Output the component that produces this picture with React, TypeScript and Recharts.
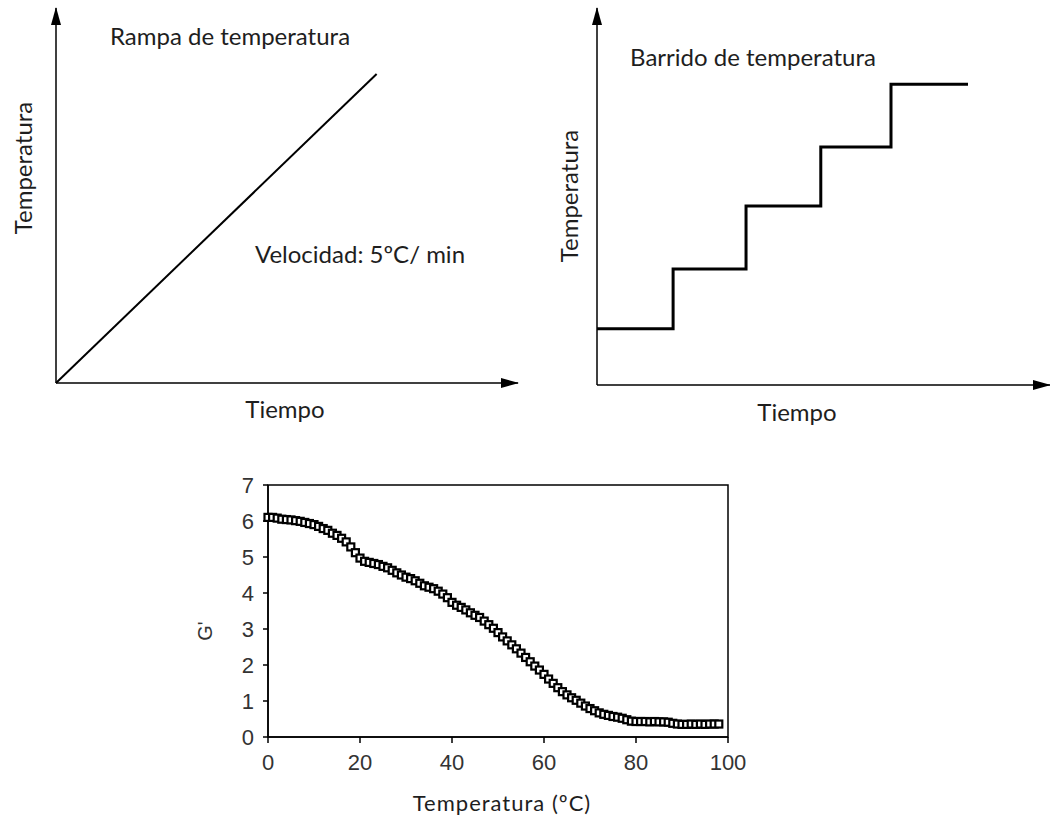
import {
  LineChart,
  Line,
  ScatterChart,
  Scatter,
  XAxis,
  YAxis,
  ReferenceArea,
} from "recharts";

// Rampa de temperatura (esquema, unidades arbitrarias)
const rampTime = [0, 6.94];
const rampTemp = [0, 8.24];

// Barrido de temperatura (escalones)
const sweepTime = [0, 1.68, 3.29, 4.94, 6.49, 8.19];
const sweepTemp = [1.49, 3.08, 4.75, 6.31, 7.98, 7.98];

// G' frente a temperatura (ºC)
const gTemps = [
  0, 1, 2, 3, 4, 5, 6, 7, 8, 9, 10, 11, 12, 13, 14, 15, 16, 17, 18, 19,
  20, 21, 22, 23, 24, 25, 26, 27, 28, 29, 30, 31, 32, 33, 34, 35, 36, 37, 38, 39,
  40, 41, 42, 43, 44, 45, 46, 47, 48, 49, 50, 51, 52, 53, 54, 55, 56, 57, 58, 59,
  60, 61, 62, 63, 64, 65, 66, 67, 68, 69, 70, 71, 72, 73, 74, 75, 76, 77, 78, 79,
  80, 81, 82, 83, 84, 85, 86, 87, 88, 89, 90, 91, 92, 93, 94, 95, 96, 97, 98,
];
const gValues = [
  6.1, 6.1, 6.08, 6.05, 6.04, 6.03, 6.01, 5.99, 5.96, 5.93, 5.9, 5.85, 5.79, 5.74, 5.66, 5.6, 5.52, 5.42, 5.28, 5.12,
  4.97, 4.88, 4.85, 4.82, 4.79, 4.74, 4.7, 4.63, 4.56, 4.5, 4.44, 4.4, 4.34, 4.27, 4.2, 4.16, 4.12, 4.05, 3.97, 3.87,
  3.74, 3.66, 3.6, 3.53, 3.45, 3.38, 3.32, 3.22, 3.12, 3.02, 2.9, 2.78, 2.67, 2.56, 2.45, 2.33, 2.21, 2.09, 1.97, 1.86,
  1.74, 1.61, 1.49, 1.37, 1.26, 1.17, 1.09, 1.02, 0.94, 0.86, 0.79, 0.73, 0.67, 0.63, 0.6, 0.57, 0.55, 0.52, 0.48, 0.44,
  0.43, 0.43, 0.43, 0.42, 0.43, 0.42, 0.42, 0.41, 0.38, 0.36, 0.35, 0.35, 0.36, 0.35, 0.36, 0.35, 0.36, 0.36, 0.36,
];
const xTicks = [0, 20, 40, 60, 80, 100];
const yTicks = [0, 1, 2, 3, 4, 5, 6, 7];

const rampData = rampTime.map((t, i) => ({ t, temp: rampTemp[i] }));
const sweepData = sweepTime.map((t, i) => ({ t, temp: sweepTemp[i] }));
const gData = gTemps.map((temp, i) => ({ temp, g: gValues[i] }));

const calibri = "Lato, 'Open Sans', sans-serif";
const arial = "'Liberation Sans', Arial, sans-serif";
const textColor = "#1e1e1e";

const arrowAxis = {
  stroke: "#000",
  strokeWidth: 1.5,
};

function Marker(props: any) {
  const { cx, cy } = props;
  return <rect x={cx - 3.5} y={cy - 3.5} width={7} height={7} fill="#fff" stroke="#000" strokeWidth={2.2} />;
}

export default function App() {
  return (
    <div style={{ position: "absolute", left: 0, top: 0, width: 1050, height: 819, background: "#fff" }}>
      <svg width={1} height={1} style={{ position: "absolute", left: 0, top: 0 }}>
        <defs>
          <marker id="arrow" markerUnits="userSpaceOnUse" markerWidth={18} markerHeight={10} refX={17} refY={5} orient="auto-start-reverse">
            <path d="M0,0 L18,5 L0,10 z" fill="#000" />
          </marker>
        </defs>
      </svg>

      <div style={{ position: "absolute", left: 0, top: 0 }}>
        <LineChart width={530} height={432} data={rampData} margin={{ top: 8, right: 12, bottom: 48, left: 55 }}>
          <XAxis dataKey="t" type="number" domain={[0, 10]} ticks={[]} tick={false} tickLine={false} height={1}
            axisLine={{ ...arrowAxis, markerEnd: "url(#arrow)" }} />
          <YAxis type="number" domain={[0, 10]} ticks={[]} tick={false} tickLine={false} width={1}
            axisLine={{ ...arrowAxis, markerStart: "url(#arrow)" }} />
          <Line dataKey="temp" stroke="#000" strokeWidth={2} dot={false} isAnimationActive={false} />
          <text x={230} y={35} textAnchor="middle" dominantBaseline="central" fontFamily={calibri} fontSize={24} fill={textColor}>
            Rampa de temperatura
          </text>
          <text x={360} y={253} textAnchor="middle" dominantBaseline="central" fontFamily={calibri} fontSize={24} fill={textColor}>
            Velocidad: 5ºC/ min
          </text>
          <text x={285} y={408} textAnchor="middle" dominantBaseline="central" fontFamily={calibri} fontSize={24} fill={textColor}>
            Tiempo
          </text>
          <text x={22} y={168} textAnchor="middle" dominantBaseline="central" fontFamily={calibri} fontSize={24} fill={textColor}
            transform="rotate(-90 22 168)">
            Temperatura
          </text>
        </LineChart>
      </div>

      <div style={{ position: "absolute", left: 540, top: 0 }}>
        <LineChart width={510} height={436} data={sweepData} margin={{ top: 8, right: 0, bottom: 50, left: 56 }}>
          <XAxis dataKey="t" type="number" domain={[0, 10]} ticks={[]} tick={false} tickLine={false} height={1}
            axisLine={{ ...arrowAxis, markerEnd: "url(#arrow)" }} />
          <YAxis type="number" domain={[0, 10]} ticks={[]} tick={false} tickLine={false} width={1}
            axisLine={{ ...arrowAxis, markerStart: "url(#arrow)" }} />
          <Line type="stepAfter" dataKey="temp" stroke="#000" strokeWidth={3} dot={false} isAnimationActive={false} />
          <text x={213} y={56} textAnchor="middle" dominantBaseline="central" fontFamily={calibri} fontSize={24} fill={textColor}>
            Barrido de temperatura
          </text>
          <text x={257} y={411} textAnchor="middle" dominantBaseline="central" fontFamily={calibri} fontSize={24} fill={textColor}>
            Tiempo
          </text>
          <text x={28} y={196} textAnchor="middle" dominantBaseline="central" fontFamily={calibri} fontSize={24} fill={textColor}
            transform="rotate(-90 28 196)">
            Temperatura
          </text>
        </LineChart>
      </div>

      <div style={{ position: "absolute", left: 180, top: 470 }}>
        <ScatterChart width={570} height={349} margin={{ top: 15, right: 22, bottom: 42, left: 48 }}>
          <XAxis dataKey="temp" type="number" domain={[0, 100]} ticks={xTicks} height={40}
            axisLine={{ stroke: "#000", strokeWidth: 1.5 }} tickLine={{ stroke: "#000", strokeWidth: 1.5 }}
            tickSize={6} tickMargin={11}
            tick={{ fontFamily: arial, fontSize: 22, fill: "#333" }} />
          <YAxis dataKey="g" type="number" domain={[0, 7]} ticks={yTicks} width={40}
            axisLine={{ stroke: "#000", strokeWidth: 1.5 }} tickLine={{ stroke: "#000", strokeWidth: 1.5 }}
            tickSize={5} tickMargin={9}
            tick={{ fontFamily: arial, fontSize: 22, fill: "#333" }} />
          <ReferenceArea x1={0} x2={100} y1={0} y2={7} fill="none" stroke="#000" strokeWidth={1.5} ifOverflow="visible" />
          <Scatter data={gData} shape={<Marker />} isAnimationActive={false} />
          <text x={25} y={161} textAnchor="middle" dominantBaseline="central" fontFamily={arial} fontSize={20} fill="#333"
            transform="rotate(-90 25 161)">
            G'
          </text>
          <text x={322} y={332} textAnchor="middle" dominantBaseline="central" fontFamily={calibri} fontSize={22}
            letterSpacing={1} fill={textColor}>
            Temperatura (ºC)
          </text>
        </ScatterChart>
      </div>
    </div>
  );
}
